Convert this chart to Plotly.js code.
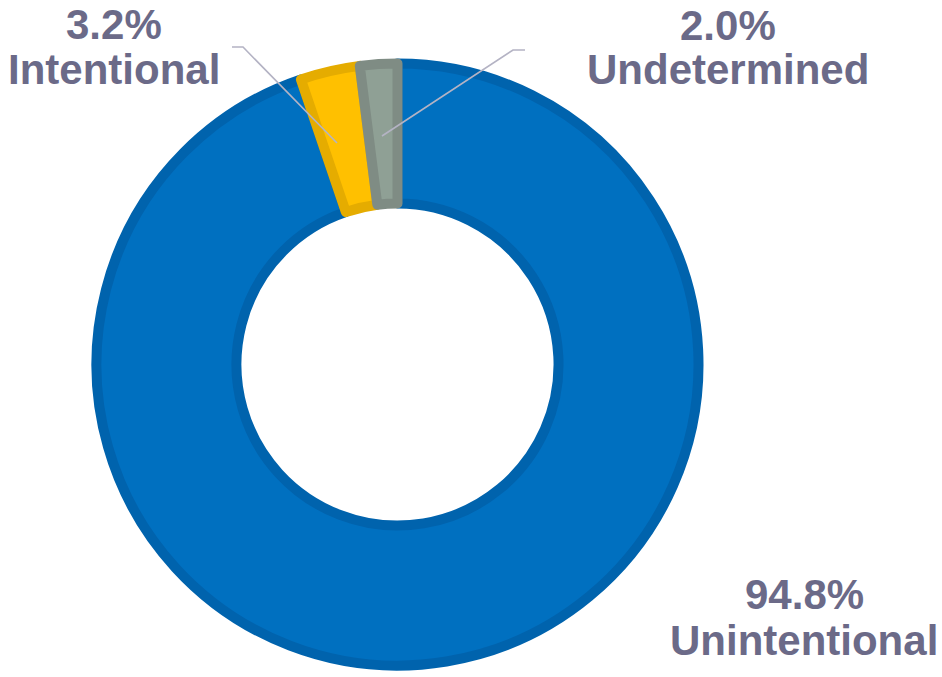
<!DOCTYPE html>
<html>
<head>
<meta charset="utf-8">
<script src="https://cdn.plot.ly/plotly-3.0.1.min.js"></script>
<style>html,body{margin:0;padding:0;background:#fff;}#chart{width:942px;height:677px;}</style>
</head>
<body>
<div id="chart"></div>
<script>
const categories = ["Unintentional", "Intentional", "Undetermined"];
const values = [94.8, 3.2, 2.0];
const pctLabels = ["94.8%", "3.2%", "2.0%"];
const fillColors = ["#0070C0", "#FFC000", "#8FA095"];
const edgeColors = ["#0063AD", "#E5AC00", "#7F8C84"];

const W = 942, H = 677;
const px = x => x / W;
const py = y => (H - y) / H;

const textColor = "#6B6A88";
const font = {family: "Liberation Sans, Arial, sans-serif", size: 42, color: textColor, weight: "bold"};

// label anchor positions (pixel centres) per category
const labelPos = {
  "Unintentional": {x: 804, yPct: 594, yName: 640},
  "Intentional": {x: 114, yPct: 24, yName: 69},
  "Undetermined": {x: 728, yPct: 25, yName: 69}
};

const annotations = [];
categories.forEach((c, i) => {
  const p = labelPos[c];
  annotations.push({x: px(p.x), y: py(p.yPct), xref: "paper", yref: "paper", text: "<b>" + pctLabels[i] + "</b>",
    showarrow: false, xanchor: "center", yanchor: "middle", font: font});
  annotations.push({x: px(p.x), y: py(p.yName), xref: "paper", yref: "paper", text: "<b>" + c + "</b>",
    showarrow: false, xanchor: "center", yanchor: "middle", font: font});
});

const leader = pts => "M " + pts.map(p => px(p[0]) + "," + py(p[1])).join(" L ");
const shapes = [
  {type: "path", xref: "paper", yref: "paper", path: leader([[232,47],[243,47],[337,143]]), line: {color: "#B4B3C4", width: 1.6}},
  {type: "path", xref: "paper", yref: "paper", path: leader([[525,50],[513,50],[382,136]]), line: {color: "#B4B3C4", width: 1.6}}
];

const cx = 397.5, cy = 312.5, r = 301;
const trace = {
  type: "pie",
  labels: categories,
  values: values,
  sort: false,
  direction: "clockwise",
  rotation: 0,
  hole: 0.535,
  textinfo: "none",
  hoverinfo: "none",
  marker: {colors: fillColors, line: {color: edgeColors, width: 10}},
  domain: {x: [(cx - r) / W, (cx + r) / W], y: [(cy - r) / H, (cy + r) / H]}
};

Plotly.newPlot("chart", [trace], {
  width: W, height: H,
  margin: {l: 0, r: 0, t: 0, b: 0},
  showlegend: false,
  paper_bgcolor: "#ffffff",
  annotations: annotations,
  shapes: shapes
}, {displayModeBar: false, staticPlot: true});
</script>
</body>
</html>
